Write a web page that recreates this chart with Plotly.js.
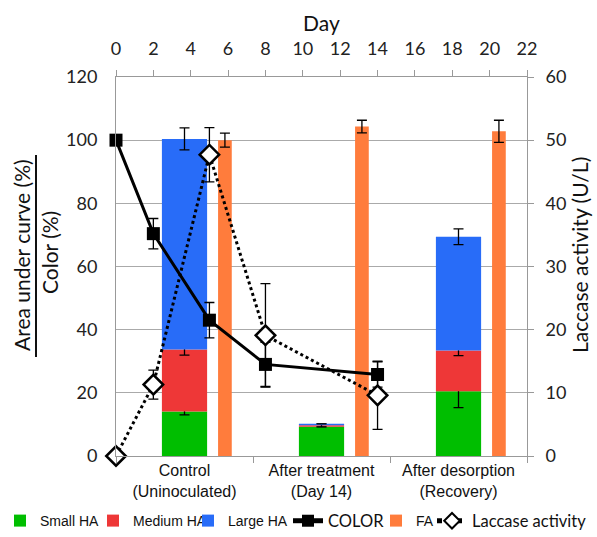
<!DOCTYPE html>
<html>
<head>
<meta charset="utf-8">
<script src="https://cdn.plot.ly/plotly-3.0.1.min.js"></script>
<style>html,body{margin:0;padding:0;background:#fff;}#chart{width:597px;height:537px;}</style>
</head>
<body>
<div id="chart"></div>
<script>
const categories = ['Control<br>(Uninoculated)', 'After treatment<br>(Day 14)', 'After desorption<br>(Recovery)'];
const smallHA = [14.1, 9.3, 20.5];
const smallErr = [1.1, 0, 5.2];
const mediumHA = [19.6, 0.4, 12.9];
const mediumErr = [1.75, 0.5, 1.6];
const largeHA = [66.7, 0.5, 36.0];
const largeErr = [3.5, 0, 2.5];
const faVals = [100, 104.3, 102.8];
const faErr = [2.2, 2.0, 3.5];
const days = [0, 2, 5, 8, 14];
const colorVals = [100, 70.4, 43, 29, 25.8];
const colorErr = [0, 4.8, 5.6, 7, 4];
const laccase = [0, 11.3, 47.7, 19.1, 9.6];
const laccaseErr = [0, 2.3, 4.3, 8.2, 5.4];

const mediumBase = smallHA.slice();
const largeBase = smallHA.map((v, i) => v + mediumHA[i]);

const errStyle = (arr) => ({type: 'data', array: arr, visible: true, color: '#000', thickness: 1.3, width: 5});

const traces = [
  {type: 'bar', name: 'Small HA', x: categories, y: smallHA, width: 0.33,
   marker: {color: 'rgb(0,190,0)'}, error_y: errStyle(smallErr), legend: 'legend'},
  {type: 'bar', name: 'Medium HA', x: categories, y: mediumHA, base: mediumBase, width: 0.33,
   marker: {color: 'rgb(238,55,55)'}, error_y: errStyle(mediumErr), legend: 'legend2'},
  {type: 'bar', name: 'Large HA', x: categories, y: largeHA, base: largeBase, width: 0.33,
   marker: {color: 'rgb(40,108,248)'}, error_y: errStyle(largeErr), legend: 'legend3'},
  {type: 'bar', name: 'FA', x: categories, y: faVals, width: 0.1, offset: 0.245,
   marker: {color: 'rgb(255,124,60)'}, error_y: errStyle(faErr), legend: 'legend5'},
  {type: 'scatter', mode: 'lines+markers', name: 'COLOR', x: days, y: colorVals,
   xaxis: 'x2', yaxis: 'y', line: {color: '#000', width: 3}, cliponaxis: false,
   marker: {symbol: 'square', size: 13, color: '#000'},
   error_y: errStyle(colorErr), legend: 'legend4'},
  {type: 'scatter', mode: 'lines+markers', name: 'Laccase activity', x: days, y: laccase,
   xaxis: 'x2', yaxis: 'y2', line: {color: '#000', width: 3, dash: 'dot'}, cliponaxis: false,
   marker: {symbol: 'diamond', size: 15, color: '#fff', line: {color: '#000', width: 2.5}},
   error_y: errStyle(laccaseErr), legend: 'legend6'}
];

const tickFont = {family: 'Lato, "Open Sans", sans-serif', size: 18, color: '#222'};
const titleFont = {family: 'Lato, "Open Sans", sans-serif', size: 21, color: '#111'};
const legFontA = {family: '"Liberation Sans", Arial, sans-serif', size: 14, color: '#111'};
const legFontB = {family: 'Lato, "Open Sans", sans-serif', size: 16.5, color: '#111'};

function leg(textStartPx, font) {
  return {orientation: 'h', xref: 'container', yref: 'container',
          x: (textStartPx - 42) / 597, xanchor: 'left', y: 16 / 537, yanchor: 'middle',
          bgcolor: 'rgba(0,0,0,0)', borderwidth: 0, itemwidth: 30, itemsizing: 'constant',
          font: font};
}

const layout = {
  width: 597, height: 537,
  margin: {l: 116, r: 70, t: 77, b: 81, autoexpand: false},
  paper_bgcolor: '#fff', plot_bgcolor: '#fff',
  barmode: 'overlay',
  showlegend: true,
  legend: leg(40, legFontA),
  legend2: leg(135, legFontA),
  legend3: leg(230, legFontA),
  legend4: leg(330, legFontB),
  legend5: leg(418, legFontA),
  legend6: leg(474, legFontB),
  xaxis: {type: 'category', range: [-0.5, 2.5], tickson: 'boundaries', ticks: 'outside',
          ticklen: 6, tickcolor: '#999', showline: true, linecolor: '#999', linewidth: 1,
          showgrid: false, zeroline: false, fixedrange: true,
          tickfont: {family: '"Liberation Sans", Arial, sans-serif', size: 16, color: '#111'}},
  xaxis2: {overlaying: 'x', side: 'top', range: [0, 22], dtick: 2, tick0: 0,
           ticks: 'outside', ticklen: 6, tickcolor: '#999', showline: true, linecolor: '#999',
           showgrid: false, zeroline: false, tickfont: tickFont, ticklabelstandoff: 8},
  yaxis: {range: [0, 120], dtick: 20, showgrid: true, gridcolor: '#aaa', gridwidth: 1,
          showline: true, linecolor: '#999', zeroline: false, ticks: '',
          tickfont: tickFont, ticklabelstandoff: 14},
  yaxis2: {overlaying: 'y', side: 'right', range: [0, 60], dtick: 10,
           showgrid: false, showline: true, linecolor: '#999', zeroline: false,
           ticks: 'outside', ticklen: 6, tickcolor: '#999',
           tickfont: tickFont, ticklabelstandoff: 8},
  shapes: [
    {type: 'line', xref: 'paper', yref: 'paper',
     x0: (36 - 116) / 411, x1: (36 - 116) / 411, y0: (456 - 155) / 379, y1: (456 - 357) / 379,
     line: {color: '#111', width: 2}}
  ],
  annotations: [
    {text: 'Area under curve (%)', textangle: -90, showarrow: false,
     xref: 'paper', yref: 'paper', x: (22 - 116) / 411, y: (456 - 255) / 379,
     xanchor: 'center', yanchor: 'middle', font: titleFont},
    {text: 'Color (%)', textangle: -90, showarrow: false,
     xref: 'paper', yref: 'paper', x: (49 - 116) / 411, y: (456 - 253) / 379,
     xanchor: 'center', yanchor: 'middle', font: titleFont},
    {text: 'Laccase activity (U/L)', textangle: -90, showarrow: false,
     xref: 'paper', yref: 'paper', x: (580 - 116) / 411, y: (456 - 255) / 379,
     xanchor: 'center', yanchor: 'middle', font: titleFont},
    {text: 'Day', showarrow: false, xref: 'paper', yref: 'paper', x: 0.5, y: (456 - 22) / 379,
     xanchor: 'center', yanchor: 'middle', font: titleFont}
  ]
};

Plotly.newPlot('chart', traces, layout, {staticPlot: true});
</script>
</body>
</html>
